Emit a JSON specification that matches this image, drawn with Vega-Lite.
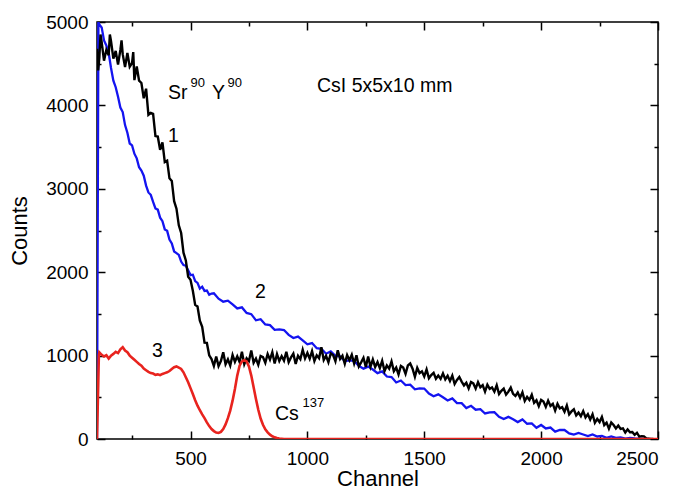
{
"$schema":"https://vega.github.io/schema/vega-lite/v6.json",
"width":561,"height":417,
"autosize":"none",
"padding":{"left":97,"top":22,"right":22,"bottom":54},
"background":"white",
"config":{"view":{"stroke":"black","strokeWidth":1.5},
"axis":{"grid":false,"labelFont":"Liberation Sans","labelFontSize":19,"labelColor":"black","titleFont":"Liberation Sans","titleFontSize":22,"titleFontWeight":"normal","titleColor":"black","domainColor":"black","domainWidth":1.5,"tickColor":"black","tickWidth":1.5}},
"datasets":{
"black":[{"c":100,"v":4678},{"c":105,"v":4420},{"c":110,"v":4568},{"c":115,"v":4850},{"c":120,"v":4757},{"c":130,"v":4536},{"c":140,"v":4666},{"c":150,"v":4601},{"c":155,"v":4850},{"c":160,"v":4770},{"c":170,"v":4562},{"c":180,"v":4653},{"c":190,"v":4490},{"c":200,"v":4665},{"c":205,"v":4780},{"c":210,"v":4614},{"c":220,"v":4459},{"c":230,"v":4629},{"c":240,"v":4464},{"c":250,"v":4507},{"c":255,"v":4640},{"c":260,"v":4303},{"c":270,"v":4466},{"c":280,"v":4297},{"c":290,"v":4269},{"c":300,"v":4085},{"c":310,"v":4200},{"c":320,"v":3886},{"c":330,"v":3910},{"c":340,"v":3898},{"c":350,"v":3632},{"c":360,"v":3626},{"c":370,"v":3468},{"c":380,"v":3557},{"c":390,"v":3321},{"c":400,"v":3338},{"c":410,"v":3126},{"c":420,"v":3094},{"c":430,"v":2852},{"c":440,"v":2762},{"c":450,"v":2562},{"c":460,"v":2470},{"c":470,"v":2234},{"c":480,"v":2141},{"c":490,"v":1945},{"c":500,"v":1910},{"c":510,"v":1778},{"c":520,"v":1608},{"c":530,"v":1588},{"c":540,"v":1418},{"c":550,"v":1344},{"c":560,"v":1156},{"c":570,"v":1152},{"c":580,"v":1004},{"c":590,"v":958},{"c":600,"v":875},{"c":610,"v":990},{"c":620,"v":874},{"c":630,"v":935},{"c":640,"v":1040},{"c":650,"v":897},{"c":660,"v":955},{"c":670,"v":880},{"c":680,"v":1008},{"c":690,"v":926},{"c":700,"v":992},{"c":710,"v":923},{"c":720,"v":1045},{"c":730,"v":897},{"c":740,"v":968},{"c":750,"v":934},{"c":760,"v":1060},{"c":770,"v":915},{"c":780,"v":965},{"c":790,"v":889},{"c":800,"v":995},{"c":810,"v":982},{"c":820,"v":914},{"c":830,"v":1020},{"c":840,"v":952},{"c":850,"v":1040},{"c":860,"v":906},{"c":870,"v":1019},{"c":880,"v":935},{"c":890,"v":994},{"c":900,"v":940},{"c":910,"v":1046},{"c":920,"v":922},{"c":930,"v":979},{"c":940,"v":1023},{"c":950,"v":900},{"c":960,"v":998},{"c":970,"v":957},{"c":980,"v":1070},{"c":990,"v":967},{"c":1000,"v":1032},{"c":1010,"v":962},{"c":1020,"v":1053},{"c":1030,"v":934},{"c":1040,"v":1004},{"c":1050,"v":969},{"c":1060,"v":1100},{"c":1070,"v":948},{"c":1080,"v":997},{"c":1090,"v":920},{"c":1100,"v":1025},{"c":1110,"v":1007},{"c":1120,"v":933},{"c":1130,"v":1064},{"c":1140,"v":960},{"c":1150,"v":998},{"c":1160,"v":901},{"c":1170,"v":1007},{"c":1180,"v":945},{"c":1190,"v":1010},{"c":1200,"v":905},{"c":1210,"v":1003},{"c":1220,"v":870},{"c":1230,"v":919},{"c":1240,"v":974},{"c":1250,"v":863},{"c":1260,"v":990},{"c":1270,"v":867},{"c":1280,"v":953},{"c":1290,"v":864},{"c":1300,"v":922},{"c":1310,"v":849},{"c":1320,"v":937},{"c":1330,"v":815},{"c":1340,"v":882},{"c":1350,"v":844},{"c":1360,"v":930},{"c":1370,"v":813},{"c":1380,"v":857},{"c":1390,"v":775},{"c":1400,"v":875},{"c":1410,"v":856},{"c":1420,"v":781},{"c":1430,"v":881},{"c":1440,"v":906},{"c":1450,"v":843},{"c":1460,"v":746},{"c":1470,"v":852},{"c":1480,"v":790},{"c":1490,"v":812},{"c":1500,"v":750},{"c":1510,"v":834},{"c":1520,"v":729},{"c":1530,"v":767},{"c":1540,"v":794},{"c":1550,"v":722},{"c":1560,"v":760},{"c":1570,"v":721},{"c":1580,"v":787},{"c":1590,"v":714},{"c":1600,"v":758},{"c":1610,"v":696},{"c":1620,"v":761},{"c":1630,"v":660},{"c":1640,"v":708},{"c":1650,"v":743},{"c":1660,"v":688},{"c":1670,"v":643},{"c":1680,"v":675},{"c":1690,"v":607},{"c":1700,"v":683},{"c":1710,"v":666},{"c":1720,"v":604},{"c":1730,"v":681},{"c":1740,"v":620},{"c":1750,"v":647},{"c":1760,"v":569},{"c":1770,"v":652},{"c":1780,"v":601},{"c":1790,"v":618},{"c":1800,"v":567},{"c":1810,"v":644},{"c":1820,"v":539},{"c":1830,"v":577},{"c":1840,"v":604},{"c":1850,"v":532},{"c":1860,"v":568},{"c":1870,"v":617},{"c":1880,"v":541},{"c":1890,"v":516},{"c":1900,"v":558},{"c":1910,"v":495},{"c":1920,"v":559},{"c":1930,"v":457},{"c":1940,"v":504},{"c":1950,"v":468},{"c":1960,"v":531},{"c":1970,"v":434},{"c":1980,"v":464},{"c":1990,"v":394},{"c":2000,"v":468},{"c":2010,"v":449},{"c":2020,"v":385},{"c":2030,"v":460},{"c":2040,"v":397},{"c":2050,"v":422},{"c":2060,"v":341},{"c":2070,"v":421},{"c":2080,"v":367},{"c":2090,"v":381},{"c":2100,"v":327},{"c":2110,"v":402},{"c":2120,"v":295},{"c":2130,"v":331},{"c":2140,"v":356},{"c":2150,"v":282},{"c":2160,"v":316},{"c":2170,"v":273},{"c":2180,"v":335},{"c":2190,"v":258},{"c":2200,"v":298},{"c":2210,"v":234},{"c":2220,"v":297},{"c":2230,"v":194},{"c":2240,"v":240},{"c":2250,"v":203},{"c":2260,"v":265},{"c":2270,"v":167},{"c":2280,"v":196},{"c":2290,"v":125},{"c":2300,"v":198},{"c":2310,"v":168},{"c":2320,"v":127},{"c":2330,"v":161},{"c":2340,"v":120},{"c":2350,"v":127},{"c":2360,"v":78},{"c":2370,"v":116},{"c":2380,"v":82},{"c":2390,"v":84},{"c":2400,"v":50},{"c":2410,"v":75},{"c":2420,"v":29},{"c":2430,"v":34},{"c":2440,"v":31},{"c":2450,"v":7},{"c":2460,"v":5},{"c":2470,"v":2},{"c":2480,"v":0}],
"blue":[{"c":100,"v":0},{"c":103,"v":2500},{"c":106,"v":5000},{"c":110,"v":4970},{"c":120,"v":4935},{"c":130,"v":4779},{"c":140,"v":4719},{"c":150,"v":4627},{"c":160,"v":4448},{"c":170,"v":4296},{"c":180,"v":4218},{"c":190,"v":4103},{"c":200,"v":3975},{"c":210,"v":3920},{"c":220,"v":3764},{"c":230,"v":3672},{"c":240,"v":3543},{"c":250,"v":3521},{"c":260,"v":3421},{"c":270,"v":3365},{"c":280,"v":3259},{"c":290,"v":3219},{"c":300,"v":3157},{"c":310,"v":3038},{"c":320,"v":2956},{"c":330,"v":2928},{"c":340,"v":2843},{"c":350,"v":2765},{"c":360,"v":2750},{"c":370,"v":2654},{"c":380,"v":2612},{"c":390,"v":2513},{"c":400,"v":2496},{"c":410,"v":2391},{"c":420,"v":2345},{"c":430,"v":2249},{"c":440,"v":2229},{"c":450,"v":2207},{"c":460,"v":2128},{"c":470,"v":2086},{"c":480,"v":2078},{"c":490,"v":2023},{"c":500,"v":1965},{"c":510,"v":1970},{"c":520,"v":1894},{"c":530,"v":1872},{"c":540,"v":1803},{"c":550,"v":1826},{"c":560,"v":1776},{"c":570,"v":1780},{"c":580,"v":1729},{"c":590,"v":1744},{"c":600,"v":1747},{"c":620,"v":1683},{"c":640,"v":1646},{"c":660,"v":1658},{"c":680,"v":1613},{"c":700,"v":1565},{"c":720,"v":1578},{"c":740,"v":1512},{"c":760,"v":1497},{"c":780,"v":1423},{"c":800,"v":1436},{"c":820,"v":1374},{"c":840,"v":1365},{"c":860,"v":1309},{"c":880,"v":1314},{"c":900,"v":1307},{"c":920,"v":1248},{"c":940,"v":1211},{"c":960,"v":1228},{"c":980,"v":1183},{"c":1000,"v":1135},{"c":1020,"v":1150},{"c":1040,"v":1089},{"c":1060,"v":1082},{"c":1080,"v":1023},{"c":1100,"v":1051},{"c":1120,"v":996},{"c":1140,"v":990},{"c":1160,"v":934},{"c":1180,"v":944},{"c":1200,"v":937},{"c":1220,"v":878},{"c":1240,"v":844},{"c":1260,"v":868},{"c":1280,"v":833},{"c":1300,"v":790},{"c":1320,"v":810},{"c":1340,"v":749},{"c":1360,"v":742},{"c":1380,"v":678},{"c":1400,"v":701},{"c":1420,"v":647},{"c":1440,"v":652},{"c":1460,"v":596},{"c":1480,"v":606},{"c":1500,"v":605},{"c":1520,"v":545},{"c":1540,"v":513},{"c":1560,"v":535},{"c":1580,"v":500},{"c":1600,"v":462},{"c":1620,"v":487},{"c":1640,"v":431},{"c":1660,"v":429},{"c":1680,"v":370},{"c":1700,"v":398},{"c":1720,"v":351},{"c":1740,"v":358},{"c":1760,"v":306},{"c":1780,"v":320},{"c":1800,"v":322},{"c":1820,"v":267},{"c":1840,"v":239},{"c":1860,"v":265},{"c":1880,"v":236},{"c":1900,"v":203},{"c":1920,"v":234},{"c":1940,"v":183},{"c":1960,"v":187},{"c":1980,"v":134},{"c":2000,"v":168},{"c":2020,"v":126},{"c":2040,"v":137},{"c":2060,"v":89},{"c":2080,"v":108},{"c":2100,"v":108},{"c":2120,"v":68},{"c":2140,"v":53},{"c":2160,"v":72},{"c":2180,"v":54},{"c":2200,"v":35},{"c":2220,"v":54},{"c":2240,"v":30},{"c":2260,"v":37},{"c":2280,"v":13},{"c":2300,"v":31},{"c":2320,"v":13},{"c":2340,"v":20},{"c":2360,"v":5},{"c":2380,"v":12},{"c":2400,"v":6},{"c":2420,"v":4},{"c":2440,"v":2},{"c":2460,"v":0}],
"red":[{"c":100,"v":0},{"c":104,"v":500},{"c":108,"v":1000},{"c":110,"v":1040},{"c":120,"v":1010},{"c":130,"v":990},{"c":140,"v":1005},{"c":150,"v":965},{"c":160,"v":1000},{"c":170,"v":1020},{"c":180,"v":1045},{"c":190,"v":1030},{"c":200,"v":1075},{"c":210,"v":1100},{"c":220,"v":1060},{"c":230,"v":1040},{"c":240,"v":1000},{"c":250,"v":975},{"c":260,"v":950},{"c":270,"v":925},{"c":280,"v":900},{"c":290,"v":880},{"c":300,"v":845},{"c":310,"v":825},{"c":320,"v":805},{"c":330,"v":790},{"c":340,"v":785},{"c":350,"v":770},{"c":360,"v":775},{"c":370,"v":765},{"c":380,"v":780},{"c":390,"v":790},{"c":400,"v":800},{"c":410,"v":815},{"c":420,"v":840},{"c":430,"v":860},{"c":440,"v":870},{"c":450,"v":855},{"c":460,"v":840},{"c":470,"v":800},{"c":480,"v":740},{"c":490,"v":680},{"c":500,"v":610},{"c":510,"v":540},{"c":520,"v":465},{"c":530,"v":400},{"c":540,"v":345},{"c":550,"v":295},{"c":560,"v":250},{"c":570,"v":200},{"c":580,"v":155},{"c":590,"v":120},{"c":600,"v":95},{"c":610,"v":78},{"c":620,"v":72},{"c":630,"v":85},{"c":640,"v":120},{"c":650,"v":175},{"c":660,"v":250},{"c":670,"v":340},{"c":680,"v":460},{"c":690,"v":600},{"c":700,"v":760},{"c":710,"v":880},{"c":720,"v":930},{"c":730,"v":945},{"c":740,"v":930},{"c":750,"v":870},{"c":760,"v":760},{"c":770,"v":620},{"c":780,"v":480},{"c":790,"v":350},{"c":800,"v":245},{"c":810,"v":170},{"c":820,"v":115},{"c":830,"v":80},{"c":840,"v":52},{"c":850,"v":33},{"c":860,"v":20},{"c":870,"v":12},{"c":880,"v":6},{"c":890,"v":3},{"c":900,"v":0},{"c":2500,"v":0}],
"big":[{"c":404,"v":4075,"t":"Sr"},{"c":592,"v":4075,"t":"Y"},{"c":1041,"v":4159,"t":"CsI 5x5x10 mm"},{"c":404,"v":3558,"t":"1"},{"c":776,"v":1695,"t":"2"},{"c":335,"v":986,"t":"3"},{"c":861,"v":228,"t":"Cs"}],
"sup":[{"c":500,"v":4219,"t":"90"},{"c":658,"v":4219,"t":"90"},{"c":979,"v":385,"t":"137"}]
},
"layer":[
{"data":{"name":"blue"},"mark":{"type":"line","color":"#1414f0","strokeWidth":2.3,"clip":true},
 "encoding":{
  "x":{"field":"c","type":"quantitative","scale":{"domain":[100,2500],"nice":false,"zero":false},"axis":null},
  "y":{"field":"v","type":"quantitative","scale":{"domain":[0,5000],"nice":false},"axis":null}}},
{"data":{"name":"black"},"mark":{"type":"line","color":"black","strokeWidth":2.4,"clip":true},
 "encoding":{
  "x":{"field":"c","type":"quantitative","scale":{"domain":[100,2500],"nice":false,"zero":false},
   "axis":{"orient":"bottom","title":"Channel","values":[500,1000,1500,2000,2500],"format":"d","domain":false,"offset":-8,"tickSize":8,"labelPadding":10,"titlePadding":0}},
  "y":{"field":"v","type":"quantitative","scale":{"domain":[0,5000],"nice":false},
   "axis":{"orient":"left","title":"Counts","values":[0,1000,2000,3000,4000,5000],"format":"d","domain":false,"offset":-8,"tickSize":8,"labelPadding":9,"titlePadding":14}}}},
{"data":{"name":"red"},"mark":{"type":"line","color":"#e8231e","strokeWidth":2.6,"clip":true},
 "encoding":{
  "x":{"field":"c","type":"quantitative","scale":{"domain":[100,2500],"nice":false,"zero":false},
   "axis":{"orient":"top","title":null,"labels":false,"domain":false,"values":[500,1000,1500,2000,2500],"offset":-8,"tickSize":8}},
  "y":{"field":"v","type":"quantitative","scale":{"domain":[0,5000],"nice":false},
   "axis":{"orient":"right","title":null,"labels":false,"domain":false,"values":[0,1000,2000,3000,4000,5000],"offset":-8,"tickSize":8}}}},
{"data":{"name":"big"},"mark":{"type":"text","align":"left","baseline":"alphabetic","font":"Liberation Sans","fontSize":19.5,"color":"black"},
 "encoding":{
  "x":{"field":"c","type":"quantitative","scale":{"domain":[100,2500],"nice":false,"zero":false},
   "axis":{"orient":"bottom","title":null,"labels":false,"domain":false,"values":[250,750,1250,1750,2250],"offset":-4,"tickSize":4}},
  "y":{"field":"v","type":"quantitative","scale":{"domain":[0,5000],"nice":false},
   "axis":{"orient":"left","title":null,"labels":false,"domain":false,"values":[500,1500,2500,3500,4500],"offset":-4,"tickSize":4}},
  "text":{"field":"t"}}},
{"data":{"name":"sup"},"mark":{"type":"text","align":"left","baseline":"alphabetic","font":"Liberation Sans","fontSize":13,"color":"black"},
 "encoding":{
  "x":{"field":"c","type":"quantitative","scale":{"domain":[100,2500],"nice":false,"zero":false},
   "axis":{"orient":"top","title":null,"labels":false,"domain":false,"values":[250,750,1250,1750,2250],"offset":-4,"tickSize":4}},
  "y":{"field":"v","type":"quantitative","scale":{"domain":[0,5000],"nice":false},
   "axis":{"orient":"right","title":null,"labels":false,"domain":false,"values":[500,1500,2500,3500,4500],"offset":-4,"tickSize":4}},
  "text":{"field":"t"}}}
],
"resolve":{"axis":{"x":"independent","y":"independent"}}
}
